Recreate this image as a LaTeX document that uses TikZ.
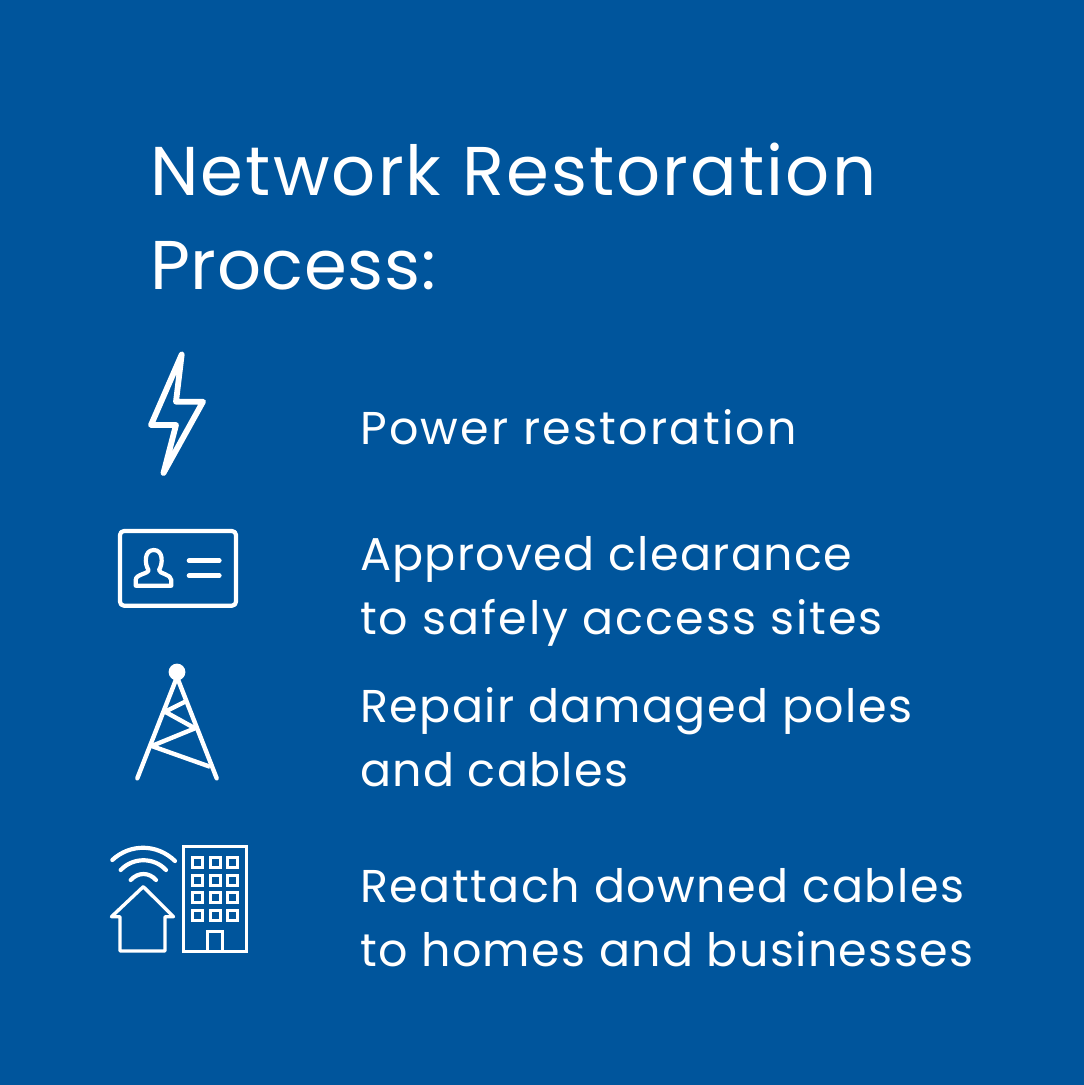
\documentclass[tikz,border=0pt]{standalone}
\usepackage{fontspec}
\setmainfont{Poppins}
\definecolor{bgblue}{HTML}{00559C}
\tikzset{
  icon/.style={draw=white,line width=4.2pt,line join=round,line cap=round},
  thin icon/.style={draw=white,line width=3pt,line join=miter},
  title/.style={anchor=base west,inner sep=0pt,text=white,font=\fontsize{69}{69}\selectfont\addfontfeatures{LetterSpace=#1}},
  body/.style={anchor=base west,inner sep=0pt,text=white,font=\fontsize{46}{46}\selectfont\addfontfeatures{LetterSpace=#1}},
}
\begin{document}
\begin{tikzpicture}[x=1pt,y=-1pt]
\useasboundingbox (0,0) rectangle (1084,1085);
\fill[bgblue] (0,0) rectangle (1084,1085);
\node[title=3.1] (t1) at (150,195) {Network Restoration};
\node[title=0.9] (t2) at (150,289) {Process:};
\node[body=4.9] (a1) at (360,444) {Power restoration};
\node[body=2.9] (b1) at (360,570) {Approved clearance};
\node[body=4.3] (b2) at (360,634) {to safely access sites};
\node[body=3.15] (c1) at (360,722) {Repair damaged poles};
\node[body=2.7] (c2) at (360,786) {and cables};
\node[body=3.3] (d1) at (360,902) {Reattach downed cables};
\node[body=2.9] (d2) at (360,966) {to homes and businesses};
% bolt
\draw[icon,line width=5.8pt] (181.7,354.5) -- (176,401.7) -- (203,401.7) -- (163.5,473) -- (176,425) -- (151,425) -- cycle;
% card
\draw[icon] (120,531) [rounded corners=4pt] -- (236,531) -- (236,605.7) -- (120,605.7) -- cycle;
\draw[icon,line width=4.6pt] (189,560.7) -- (219.3,560.7) (189,575.7) -- (219.3,575.7);
\draw[icon] (135.7,585.7) -- (171.3,585.7) -- (171.3,580) .. controls (171.3,574) and (159,574) .. (159,570) .. controls (163,564) and (163.5,550) .. (153.8,550) .. controls (144,550) and (144.5,564) .. (148.5,570) .. controls (148.5,574) and (135.7,574) .. (135.7,580) -- cycle;
% tower
\fill[white] (177,672) circle (8.4);
\draw[icon,line width=4.4pt] (137.3,778.3) -- (177,677) -- (216.7,778.3);
\draw[icon,line cap=butt,line width=4.4pt] (185,701.7) -- (165,711.7) -- (195,728.3) -- (151.7,746) -- (210,766.7);
% wifi
\draw[icon] (112.3,860) .. controls (130,843.5) and (157,843.5) .. (175,861);
\draw[icon] (120.7,870) .. controls (133,857) and (154,857) .. (166,870);
\draw[icon] (130.7,880) .. controls (138,872) and (149,872) .. (156,880);
% house
\draw[thin icon,line width=3.4pt,line join=round] (143.3,886.7) -- (173.5,916.7) -- (165,916.7) -- (165,951) -- (120,951) -- (120,916.7) -- (111.5,916.7) -- cycle;
% building
\draw[thin icon,line width=3.4pt] (183.3,846.7) rectangle (246.7,951.7);
\foreach \px in {197.3,215,232.7}\foreach \py in {862.3,880,897.7,915}
  \draw[thin icon] (\px-5,\py-5) rectangle (\px+5,\py+5);
\draw[thin icon,line width=3.4pt] (207.7,951.7) -- (207.7,931.7) -- (222.3,931.7) -- (222.3,951.7);
\end{tikzpicture}
\end{document}
